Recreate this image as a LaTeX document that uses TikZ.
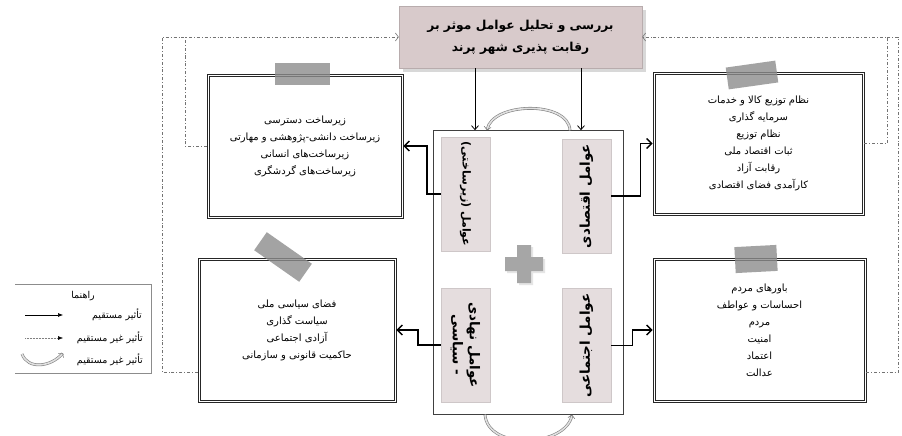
\documentclass[tikz,border=0pt]{standalone}
\usepackage{fontspec}
\usepackage{tikz}
\usetikzlibrary{positioning,arrows.meta,shadows}
\TeXXeTstate=1
\newfontfamily\farsi[Script=Arabic]{DejaVu Sans}
\newcommand{\fa}[1]{{\farsi\beginR #1\endR}}
\definecolor{titlepink}{RGB}{216,202,203}
\definecolor{factorpink}{RGB}{229,221,222}
\tikzstyle{titlebox} = [rectangle, minimum width=243pt, minimum height=62pt, align=center, fill=titlepink, draw=titlepink!85!black, drop shadow={shadow xshift=4pt, shadow yshift=-4pt, fill=black!30}, font=\fontsize{12.3}{22}\bfseries]
\tikzstyle{listbox} = [rectangle, align=center, draw=black!85, line width=0.6pt, font=\fontsize{10}{17}\selectfont]
\tikzstyle{frameline} = [draw=black!85, line width=0.6pt]
\tikzstyle{corebox} = [rectangle, minimum width=190pt, minimum height=284pt, draw=black!75, line width=0.6pt]
\tikzstyle{factorbox} = [rectangle, minimum width=49pt, minimum height=114pt, fill=factorpink, draw=factorpink!90!black]
\tikzstyle{factortext} = [align=center, inner sep=0pt, font=\fontsize{13.5}{17}\bfseries]
\tikzstyle{tape} = [rectangle, fill=black!45, opacity=0.8, inner sep=0pt]
\tikzstyle{arrow} = [line width=1.4pt, -{Straight Barb[length=5pt,width=10pt]}]
\tikzstyle{thinarrow} = [line width=0.8pt, -{Straight Barb[length=4pt,width=7pt]}]
\tikzstyle{feedback} = [draw=black!55, line width=0.6pt, dash pattern=on 3pt off 2pt on 0.8pt off 2pt, -{Straight Barb[length=3pt,width=8pt]}]
\tikzstyle{cyclearrow} = [draw=black!50, double=black!12, double distance=1.6pt, line width=0.6pt, -{Straight Barb[length=3pt,width=7pt]}]
\tikzstyle{legtext} = [anchor=east, inner sep=0pt, font=\fontsize{9.5}{10}\selectfont]

\begin{document}
\begin{tikzpicture}[x=1pt,y=-1pt]
\path[use as bounding box, fill=white] (0,0) rectangle (902,436);

% feedback lines to the title
\coordinate (lefttop) at (162,37);
\coordinate (righttop) at (898,37);

\node[titlebox] (title) at (520.5,37)
          {\fa{بررسی و تحلیل عوامل موثر بر}\\\fa{رقابت پذیری شهر پرند}};

% central group
\node[corebox] (core) at (528,272.5) {};
\node[factorbox] (infra) at (core) [xshift=-62.5pt,yshift=78.5pt] {};
\node[factorbox] (econ) at (core) [xshift=58.5pt,yshift=76.5pt] {};
\node[factorbox] (pol) at (core) [xshift=-62.5pt,yshift=-72.5pt] {};
\node[factorbox] (soc) at (core) [xshift=58.5pt,yshift=-73pt] {};
\node[factortext,rotate=-90,font=\fontsize{11}{17}\bfseries] (infra-t) at (infra) {\fa{عوامل (زیرساختی)}};
\node[factortext,rotate=90] (econ-t) at (econ) {\fa{عوامل اقتصادی}};
\node[factortext,rotate=-90] (pol-t) at (pol) {\fa{عوامل نهادی}\\\fa{- سیاسی}};
\node[factortext,rotate=90] (soc-t) at (soc) {\fa{عوامل اجتماعی}};
\fill[black!35, drop shadow={shadow xshift=2pt, shadow yshift=-2pt, fill=black!20}]
  (517,245) -- (531,245) -- (531,257) -- (543,257) -- (543,271) -- (531,271)
  -- (531,283) -- (517,283) -- (517,271) -- (505,271) -- (505,257) -- (517,257) -- cycle;

% the four lists
\node[listbox, minimum width=196pt, minimum height=144pt] (infrabox) at (305,146)
          {\fa{زیرساخت دسترسی}\\\fa{زیرساخت دانشی-پژوهشی و مهارتی}\\\fa{زیرساخت‌های انسانی}\\\fa{زیرساخت‌های گردشگری}};
\node[listbox, minimum width=211pt, minimum height=143pt] (econbox) at (758.5,143.5)
          {\fa{نظام توزیع کالا و خدمات}\\\fa{سرمایه گذاری}\\\fa{نظام توزیع}\\\fa{ثبات اقتصاد ملی}\\\fa{رقابت آزاد}\\\fa{کارآمدی فضای اقتصادی}};
\node[listbox, minimum width=198pt, minimum height=144pt] (polbox) at (297,330)
          {\fa{فضای سیاسی ملی}\\\fa{سیاست گذاری}\\\fa{آزادی اجتماعی}\\\fa{حاکمیت قانونی و سازمانی}};
\node[listbox, minimum width=213pt, minimum height=144pt] (socbox) at (759.5,330)
          {\fa{باورهای مردم}\\\fa{احساسات و عواطف}\\\fa{مردم}\\\fa{امنیت}\\\fa{اعتماد}\\\fa{عدالت}};
\foreach \b in {infrabox,econbox,polbox,socbox}
  \draw[frameline] ([shift={(2.2pt,-2.2pt)}]\b.north west) rectangle ([shift={(-2.2pt,2.2pt)}]\b.south east);
\node[tape, minimum width=55pt, minimum height=21pt] (infratape) at (302,74) {};
\node[tape, minimum width=50pt, minimum height=22pt, rotate=8] (econtape) at (752,75) {};
\node[tape, minimum width=55pt, minimum height=22pt, rotate=-35] (poltape) at (283,257) {};
\node[tape, minimum width=42pt, minimum height=26pt, rotate=3] (soctape) at (756,259) {};

% connectors
\draw[thinarrow] ([xshift=-45.5pt]title.south) -- ([xshift=-45.5pt]title.south |- core.north);
\draw[thinarrow] ([xshift=60.5pt]title.south) -- ([xshift=60.5pt]title.south |- core.north);
\draw[arrow] (econ.east) -- ++(29,0) |- (econbox.west);
\draw[arrow] (infra.west) -- ++(-14,0) |- (infrabox.east);
\draw[arrow] (soc.east) -- ++(21,0) |- (socbox.west);
\draw[arrow] (pol.west) -- ++(-23,0) |- (polbox.east);
\draw[cyclearrow] ([xshift=42pt]core.north) .. controls +(-2,-30) and +(5,-28) .. ([xshift=-41pt]core.north);
\draw[cyclearrow] ([xshift=-43pt]core.south) .. controls +(3,36) and +(-6,32) .. ([xshift=44pt]core.south);
\draw[feedback] ([yshift=-42pt]polbox.west) -| (lefttop) -- (title.west);
\draw[feedback,-] (infrabox.west) -| ([xshift=23pt]lefttop);
\draw[feedback] ([yshift=-42pt]socbox.east) -| (righttop) -- (title.east);
\draw[feedback,-] (econbox.east) -| ([xshift=-11pt]righttop);

% legend
\draw[black!45, line width=0.5pt] (15,284) -- (151,284) -- (151,373) -- (15,373);
\node[legtext, anchor=center] (leg-title) at (83,296) {\fa{راهنما}};
\node[legtext] (leg-direct) at (142,315) {\fa{تأثیر مستقیم}};
\node[legtext] (leg-indirect) at (143,338) {\fa{تأثیر غیر مستقیم}};
\node[legtext] (leg-cycle) at (143,360) {\fa{تأثیر غیر مستقیم}};
\coordinate (ls1) at (25,315);
\coordinate (le1) at (63,315);
\coordinate (ls2) at (25,338);
\coordinate (le2) at (63,338);
\coordinate (ls3) at (22,354);
\coordinate (le3) at (63,353);
\draw[line width=0.6pt, -{Latex[length=5pt,width=4pt]}] (ls1) -- (le1);
\draw[black!50, line width=0.5pt, densely dotted, -{Latex[length=5pt,width=4pt,black]}] (ls2) -- (le2);
\draw[cyclearrow] (ls3) .. controls +(6,16) and +(-12,14) .. (le3);
\end{tikzpicture}
\end{document}
